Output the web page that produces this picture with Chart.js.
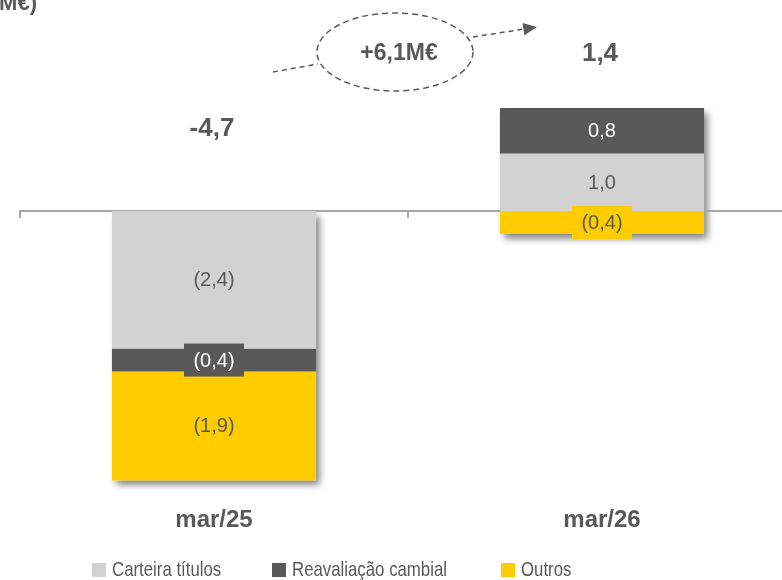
<!DOCTYPE html>
<html>
<head>
<meta charset="utf-8">
<script src="https://cdn.jsdelivr.net/npm/chart.js@4.4.1/dist/chart.umd.min.js"></script>
<style>
    html, body { margin: 0; padding: 0; background: #fff; }
    #wrap { position: relative; width: 782px; height: 580px; overflow: hidden; }
    #chart-box { position: absolute; left: 0; top: 0; width: 800px; height: 580px; }
    #legend {
        position: absolute; left: 0; top: 556px; width: 782px; height: 26px;
        font-family: "Liberation Sans", Arial, sans-serif;
        font-size: 21px; color: #595959; line-height: 26px;
    }
    #legend .item { position: absolute; top: 0; display: flex; align-items: center; white-space: nowrap; }
    #legend .swatch { width: 14px; height: 14px; margin-right: 6px; margin-top: 1px; }
    #legend .name { display: inline-block; transform: scaleX(0.8); transform-origin: left center; }
</style>
</head>
<body>
<div id="wrap">
    <div id="chart-box"><canvas id="result-chart" width="800" height="580"></canvas></div>
    <div id="legend"></div>
</div>
<script>
const categories = ['mar/25', 'mar/26'];
const carteiraTitulos = [-2.4, 1.0];
const reavaliacaoCambial = [-0.4, 0.8];
const outros = [-1.9, -0.4];
const totals = [-4.7, 1.4];

const seriesNames = ['Carteira títulos', 'Reavaliação cambial', 'Outros'];
const seriesColors = ['#D2D2D2', '#595959', '#FFCC00'];
const labelColors = ['#595959', '#FFFFFF', '#595959'];
const legendLeft = [92, 272, 501];

const FONT = '"Liberation Sans", Arial, sans-serif';
const TEXT_GREY = '#595959';

function fmt(v) {
    const s = Math.abs(v).toFixed(1).replace('.', ',');
    return v < 0 ? `(${s})` : s;
}

function fmtTotal(v) {
    return (v < 0 ? '-' : '') + Math.abs(v).toFixed(1).replace('.', ',');
}

// shadow under each whole stack + zero line with ticks
const backdropPlugin = {
    id: 'backdrop',
    beforeDatasetsDraw(chart) {
        const ctx = chart.ctx;
        const metas = chart.getSortedVisibleDatasetMetas();
        categories.forEach((_, i) => {
            let top = Infinity, bottom = -Infinity, left = 0, width = 0;
            metas.forEach(meta => {
                const p = meta.data[i].getProps(['x', 'y', 'base', 'width'], true);
                top = Math.min(top, p.y, p.base);
                bottom = Math.max(bottom, p.y, p.base);
                left = p.x - p.width / 2;
                width = p.width;
            });
            ctx.save();
            ctx.shadowColor = 'rgba(0, 0, 0, 0.5)';
            ctx.shadowBlur = 7;
            ctx.shadowOffsetX = 4;
            ctx.shadowOffsetY = 5;
            ctx.fillStyle = '#fff';
            ctx.fillRect(left, top, width, bottom - top);
            ctx.restore();
        });

        const xs = chart.scales.x;
        const y0 = Math.round(chart.scales.y.getPixelForValue(0));
        const step = (xs.right - xs.left) / categories.length;
        ctx.save();
        ctx.strokeStyle = '#A6A6A6';
        ctx.lineWidth = 2;
        ctx.beginPath();
        ctx.moveTo(xs.left, y0);
        ctx.lineTo(xs.right, y0);
        for (let k = 0; k <= categories.length; k++) {
            const x = Math.round(xs.left + k * step);
            ctx.moveTo(x, y0 - 1);
            ctx.lineTo(x, y0 + 7);
        }
        ctx.stroke();
        ctx.restore();
    }
};

// value labels, totals, variation bubble and cut-off title
const labelsPlugin = {
    id: 'labels',
    afterDatasetsDraw(chart, args, opts) {
        const ctx = chart.ctx;
        const y0 = chart.scales.y.getPixelForValue(0);
        ctx.save();
        ctx.textAlign = 'center';
        ctx.textBaseline = 'middle';

        chart.data.datasets.forEach((ds, d) => {
            const meta = chart.getDatasetMeta(d);
            meta.data.forEach((el, i) => {
                const v = ds.data[i];
                const p = el.getProps(['x', 'y', 'base'], true);
                const cy = (p.y + p.base) / 2;
                ctx.font = `20px ${FONT}`;
                if (Math.abs(v) < 0.5) {
                    ctx.fillStyle = seriesColors[d];
                    ctx.fillRect(p.x - 30, cy - 16.5, 60, 33);
                }
                ctx.fillStyle = labelColors[d];
                ctx.fillText(fmt(v), p.x, cy + 1);
            });
        });

        // totals above stacks
        const meta0 = chart.getDatasetMeta(0);
        totals.forEach((t, i) => {
            let top = y0;
            chart.data.datasets.forEach((ds, d) => {
                const p = chart.getDatasetMeta(d).data[i].getProps(['y', 'base'], true);
                top = Math.min(top, p.y, p.base);
            });
            ctx.font = `bold 26px ${FONT}`;
            ctx.fillStyle = TEXT_GREY;
            ctx.fillText(fmtTotal(t), meta0.data[i].x - 2, top - opts.totalOffsets[i]);
        });

        // variation bubble
        const b = opts.bubble;
        ctx.strokeStyle = TEXT_GREY;
        ctx.lineWidth = 1.5;
        ctx.setLineDash([6, 4]);
        ctx.beginPath();
        ctx.ellipse(b.cx, b.cy, b.rx, b.ry, 0, 0, Math.PI * 2);
        ctx.stroke();
        ctx.setLineDash([5, 4]);
        ctx.beginPath();
        ctx.moveTo(b.inFrom[0], b.inFrom[1]);
        ctx.lineTo(b.inTo[0], b.inTo[1]);
        ctx.moveTo(b.outFrom[0], b.outFrom[1]);
        const ang = Math.atan2(b.outTo[1] - b.outFrom[1], b.outTo[0] - b.outFrom[0]);
        const headLen = 15;
        ctx.lineTo(b.outTo[0] - headLen * Math.cos(ang), b.outTo[1] - headLen * Math.sin(ang));
        ctx.stroke();
        ctx.setLineDash([]);
        ctx.fillStyle = TEXT_GREY;
        ctx.beginPath();
        ctx.moveTo(b.outTo[0], b.outTo[1]);
        ctx.lineTo(b.outTo[0] - headLen * Math.cos(ang - 0.42), b.outTo[1] - headLen * Math.sin(ang - 0.42));
        ctx.lineTo(b.outTo[0] - headLen * Math.cos(ang + 0.42), b.outTo[1] - headLen * Math.sin(ang + 0.42));
        ctx.closePath();
        ctx.fill();

        const diff = totals[totals.length - 1] - totals[0];
        ctx.font = `bold 23px ${FONT}`;
        ctx.fillText((diff >= 0 ? '+' : '-') + Math.abs(diff).toFixed(1).replace('.', ',') + 'M€', b.cx + 4, b.cy + 2);

        // title, cut off by the top left corner
        ctx.font = `bold 22px ${FONT}`;
        ctx.textAlign = 'right';
        ctx.textBaseline = 'alphabetic';
        ctx.fillText('(M€)', 37, 10);
        ctx.restore();
    }
};

const datasets = [carteiraTitulos, reavaliacaoCambial, outros].map((values, d) => ({
    label: seriesNames[d],
    data: values,
    backgroundColor: seriesColors[d],
    borderWidth: 0,
    categoryPercentage: 1,
    barPercentage: 0.526
}));

new Chart(document.getElementById('result-chart'), {
    type: 'bar',
    data: { labels: categories, datasets: datasets },
    options: {
        responsive: false,
        devicePixelRatio: 1,
        animation: false,
        layout: { padding: { left: 20, right: 4, top: 10.5, bottom: 37.6 } },
        plugins: {
            legend: { display: false },
            tooltip: { enabled: false },
            labels: {
                totalOffsets: [82, 54],
                bubble: {
                    cx: 395, cy: 52, rx: 78, ry: 39,
                    inFrom: [273, 72], inTo: [318, 64],
                    outFrom: [473, 37], outTo: [537, 27]
                }
            }
        },
        scales: {
            x: {
                stacked: true,
                grid: { display: false, drawTicks: false },
                border: { display: false },
                ticks: {
                    color: TEXT_GREY,
                    padding: 8,
                    font: { family: FONT, size: 24, weight: 'bold' }
                }
            },
            y: {
                stacked: true,
                display: false,
                min: -5,
                max: 3.5
            }
        }
    },
    plugins: [backdropPlugin, labelsPlugin]
});

const legendEl = document.getElementById('legend');
legendEl.innerHTML = seriesNames.map((name, d) =>
    `<span class="item" style="left:${legendLeft[d]}px"><span class="swatch" style="background:${seriesColors[d]}"></span><span class="name">${name}</span></span>`
).join('');
</script>
</body>
</html>
